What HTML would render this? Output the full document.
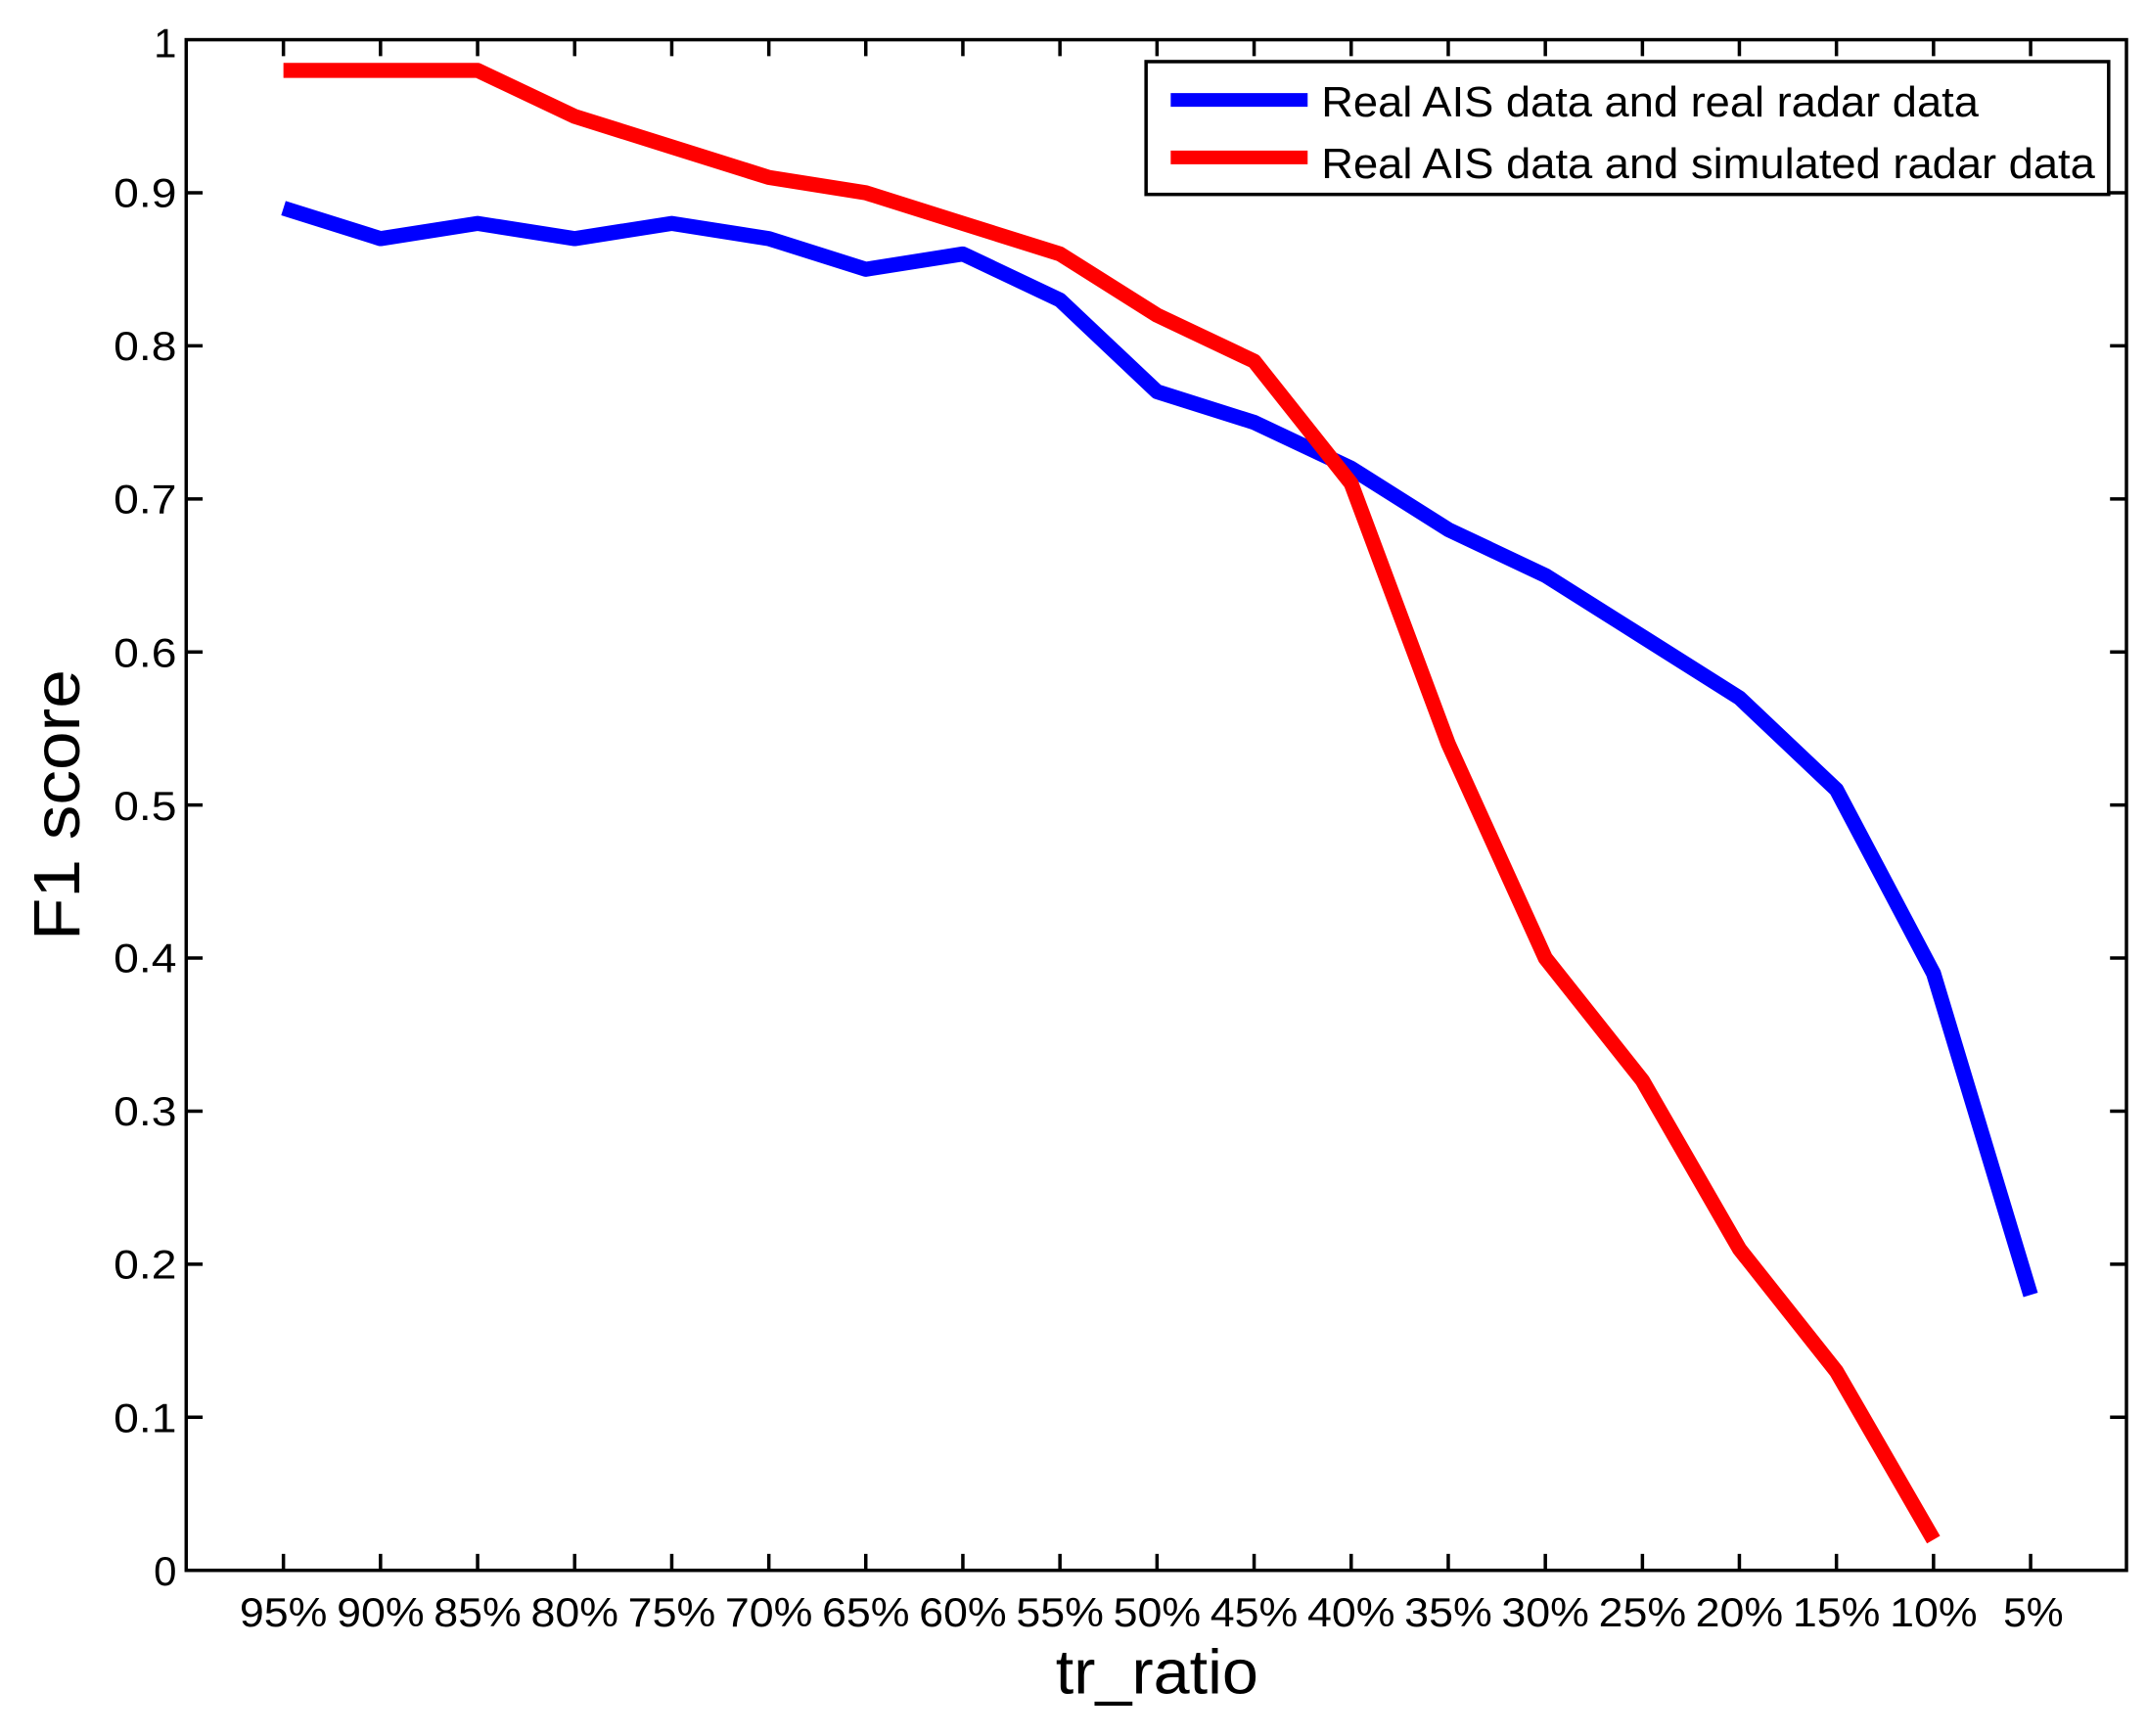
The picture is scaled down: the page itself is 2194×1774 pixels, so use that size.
<!DOCTYPE html>
<html><head><style>html,body{margin:0;padding:0;background:#fff}svg{display:block}</style></head>
<body>
<svg width="2194" height="1774" viewBox="0 0 1568 1268" preserveAspectRatio="none" xmlns="http://www.w3.org/2000/svg" font-family="Liberation Sans, sans-serif">
<rect width="1568" height="1268" fill="#fff"/>
<g stroke="#000" stroke-width="2.5" fill="none">
<rect x="136" y="29" width="1417" height="1118"/>
<path d="M207 1147v-12M277.9 1147v-12M348.8 1147v-12M419.7 1147v-12M490.6 1147v-12M561.5 1147v-12M632.3 1147v-12M703.2 1147v-12M774.1 1147v-12M845 1147v-12M915.9 1147v-12M986.8 1147v-12M1057.7 1147v-12M1128.6 1147v-12M1199.5 1147v-12M1270.3 1147v-12M1341.2 1147v-12M1412.1 1147v-12M1483 1147v-12"/>
<path d="M207 29v12M277.9 29v12M348.8 29v12M419.7 29v12M490.6 29v12M561.5 29v12M632.3 29v12M703.2 29v12M774.1 29v12M845 29v12M915.9 29v12M986.8 29v12M1057.7 29v12M1128.6 29v12M1199.5 29v12M1270.3 29v12M1341.2 29v12M1412.1 29v12M1483 29v12"/>
<path d="M136 1035.2h12M136 923.4h12M136 811.6h12M136 699.8h12M136 588h12M136 476.2h12M136 364.4h12M136 252.6h12M136 140.8h12"/>
<path d="M1553 1035.2h-12M1553 923.4h-12M1553 811.6h-12M1553 699.8h-12M1553 588h-12M1553 476.2h-12M1553 364.4h-12M1553 252.6h-12M1553 140.8h-12"/>
</g>
<polyline fill="none" stroke="#0000ff" stroke-width="11" stroke-linejoin="round" points="207,152 277.9,174.3 348.8,163.2 419.7,174.3 490.6,163.2 561.5,174.3 632.3,196.7 703.2,185.5 774.1,219.1 845,286.1 915.9,308.5 986.8,342 1057.7,386.8 1128.6,420.3 1199.5,465 1270.3,509.7 1341.2,576.8 1412.1,711 1483,945.8"/>
<polyline fill="none" stroke="#ff0000" stroke-width="11" stroke-linejoin="round" points="207,51.4 277.9,51.4 348.8,51.4 419.7,85 490.6,107.3 561.5,129.6 632.3,140.8 703.2,163.2 774.1,185.5 845,230.2 915.9,263.8 986.8,353.2 1057.7,543.3 1128.6,699.8 1199.5,789.2 1270.3,912.2 1341.2,1001.7 1412.1,1124.6"/>
<g font-size="30" text-anchor="end" fill="#000">
<text x="129" y="1158">0</text><text x="129" y="1046" textLength="46" lengthAdjust="spacingAndGlyphs">0.1</text><text x="129" y="934" textLength="46" lengthAdjust="spacingAndGlyphs">0.2</text><text x="129" y="822" textLength="46" lengthAdjust="spacingAndGlyphs">0.3</text><text x="129" y="710" textLength="46" lengthAdjust="spacingAndGlyphs">0.4</text><text x="129" y="599" textLength="46" lengthAdjust="spacingAndGlyphs">0.5</text><text x="129" y="487" textLength="46" lengthAdjust="spacingAndGlyphs">0.6</text><text x="129" y="375" textLength="46" lengthAdjust="spacingAndGlyphs">0.7</text><text x="129" y="263" textLength="46" lengthAdjust="spacingAndGlyphs">0.8</text><text x="129" y="151" textLength="46" lengthAdjust="spacingAndGlyphs">0.9</text><text x="129" y="42">1</text>
</g>
<g font-size="30" text-anchor="middle" fill="#000" lengthAdjust="spacingAndGlyphs">
<text x="207" y="1188" textLength="64" lengthAdjust="spacingAndGlyphs">95%</text><text x="277.9" y="1188" textLength="64" lengthAdjust="spacingAndGlyphs">90%</text><text x="348.8" y="1188" textLength="64" lengthAdjust="spacingAndGlyphs">85%</text><text x="419.7" y="1188" textLength="64" lengthAdjust="spacingAndGlyphs">80%</text><text x="490.6" y="1188" textLength="64" lengthAdjust="spacingAndGlyphs">75%</text><text x="561.5" y="1188" textLength="64" lengthAdjust="spacingAndGlyphs">70%</text><text x="632.3" y="1188" textLength="64" lengthAdjust="spacingAndGlyphs">65%</text><text x="703.2" y="1188" textLength="64" lengthAdjust="spacingAndGlyphs">60%</text><text x="774.1" y="1188" textLength="64" lengthAdjust="spacingAndGlyphs">55%</text><text x="845" y="1188" textLength="64" lengthAdjust="spacingAndGlyphs">50%</text><text x="915.9" y="1188" textLength="64" lengthAdjust="spacingAndGlyphs">45%</text><text x="986.8" y="1188" textLength="64" lengthAdjust="spacingAndGlyphs">40%</text><text x="1057.7" y="1188" textLength="64" lengthAdjust="spacingAndGlyphs">35%</text><text x="1128.6" y="1188" textLength="64" lengthAdjust="spacingAndGlyphs">30%</text><text x="1199.5" y="1188" textLength="64" lengthAdjust="spacingAndGlyphs">25%</text><text x="1270.3" y="1188" textLength="64" lengthAdjust="spacingAndGlyphs">20%</text><text x="1341.2" y="1188" textLength="64" lengthAdjust="spacingAndGlyphs">15%</text><text x="1412.1" y="1188" textLength="64" lengthAdjust="spacingAndGlyphs">10%</text><text x="1485" y="1188" textLength="44" lengthAdjust="spacingAndGlyphs">5%</text>
</g>
<text x="845" y="1237" font-size="46" text-anchor="middle" textLength="148" lengthAdjust="spacingAndGlyphs">tr_ratio</text>
<text transform="translate(58,588) rotate(-90)" font-size="48" text-anchor="middle" textLength="198" lengthAdjust="spacingAndGlyphs">F1 score</text>
<rect x="837" y="45" width="703" height="97" fill="#fff" stroke="#000" stroke-width="2.5"/>
<line x1="855" y1="73" x2="955" y2="73" stroke="#0000ff" stroke-width="10"/>
<line x1="855" y1="115" x2="955" y2="115" stroke="#ff0000" stroke-width="10"/>
<text x="965" y="85" font-size="31" textLength="480" lengthAdjust="spacingAndGlyphs">Real AIS data and real radar data</text>
<text x="965" y="130" font-size="31" textLength="565" lengthAdjust="spacingAndGlyphs">Real AIS data and simulated radar data</text>
</svg>
</body></html>
